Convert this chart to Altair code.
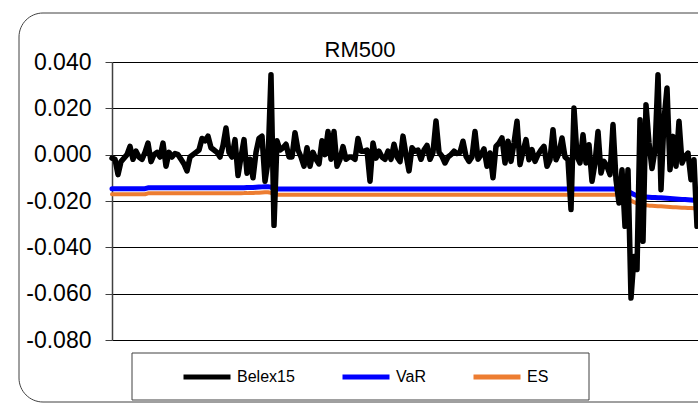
import altair as alt
import pandas as pd

# Daily Belex15 returns with 1-day VaR and Expected Shortfall estimates (RM500 model)
series_names = ["Belex15", "VaR", "ES"]
series_colors = ["#000000", "#0000FF", "#ED7D31"]
series_widths = [5.5, 5, 4]
chart_title = "RM500"
y_ticks = [-0.08, -0.06, -0.04, -0.02, 0.0, 0.02, 0.04]

belex15 = [
    -0.0015, -0.0020, -0.0086, -0.0030, -0.0015, 0.0000, 0.0036, -0.0020, 0.0015, -0.0010,
    -0.0020, 0.0010, 0.0050, -0.0030, 0.0000, 0.0010, -0.0010, 0.0050, -0.0050, 0.0010,
    -0.0010, 0.0005, 0.0000, -0.0020, -0.0040, -0.0070, -0.0010, 0.0000, 0.0010, 0.0020,
    0.0070, 0.0060, 0.0080, 0.0030, 0.0020, 0.0010, -0.0010, 0.0040, 0.0115, 0.0010,
    -0.0010, 0.0065, -0.0090, -0.0010, 0.0065, -0.0080, -0.0020, -0.0100, 0.0010, 0.0070,
    0.0080, -0.0115, -0.0030, 0.0345, -0.0305, 0.0060, 0.0020, 0.0030, 0.0045, -0.0010,
    -0.0010, 0.0095, 0.0020, -0.0010, -0.0050, 0.0030, -0.0050, 0.0010, -0.0020, -0.0040,
    0.0060, 0.0000, 0.0100, -0.0020, 0.0100, -0.0050, -0.0020, 0.0035, -0.0020, -0.0010,
    -0.0010, -0.0020, 0.0070, 0.0015, 0.0015, 0.0020, -0.0115, 0.0050, -0.0015, 0.0015,
    -0.0010, -0.0020, 0.0015, -0.0020, 0.0045, -0.0010, -0.0030, 0.0080, 0.0000, -0.0070,
    0.0030, 0.0015, 0.0020, -0.0020, 0.0020, 0.0040, -0.0020, 0.0010, 0.0145, 0.0010,
    -0.0007, -0.0036, -0.0010, 0.0000, 0.0015, 0.0005, 0.0010, 0.0058, -0.0007, -0.0029,
    -0.0010, 0.0100, -0.0020, 0.0000, 0.0025, -0.0050, 0.0007, -0.0100, 0.0036, 0.0050,
    0.0072, -0.0036, 0.0058, -0.0029, 0.0050, 0.0144, -0.0043, 0.0014, 0.0065, -0.0022,
    0.0022, -0.0029, 0.0000, 0.0020, 0.0036, -0.0050, -0.0022, 0.0108, -0.0022, 0.0007,
    0.0072, -0.0010, -0.0022, -0.0237, 0.0201, -0.0007, -0.0036, 0.0086, -0.0036, 0.0043,
    -0.0115, -0.0036, 0.0100, -0.0079, -0.0029, -0.0050, -0.0086, 0.0130, -0.0108, -0.0209,
    -0.0065, -0.0309, -0.0065, -0.0619, -0.0440, -0.0496, 0.0151, -0.0374, 0.0216, 0.0050,
    -0.0060, 0.0020, 0.0345, -0.0151, 0.0150, 0.0288, -0.0065, 0.0079, -0.0050, 0.0144,
    -0.0036, -0.0007, 0.0007, -0.0108, -0.0022, -0.0309,
]

var_values = [
    -0.0147, -0.0147, -0.0147, -0.0147, -0.0147, -0.0147, -0.0147, -0.0147, -0.0147, -0.0147,
    -0.0147, -0.0147, -0.0143, -0.0143, -0.0143, -0.0143, -0.0143, -0.0143, -0.0143, -0.0143,
    -0.0143, -0.0143, -0.0143, -0.0143, -0.0143, -0.0143, -0.0143, -0.0143, -0.0143, -0.0143,
    -0.0143, -0.0143, -0.0143, -0.0143, -0.0143, -0.0143, -0.0143, -0.0143, -0.0143, -0.0143,
    -0.0143, -0.0143, -0.0143, -0.0143, -0.0143, -0.0142, -0.0142, -0.0142, -0.0141, -0.0140,
    -0.0139, -0.0138, -0.0138, -0.0140, -0.0148, -0.0148, -0.0148, -0.0148, -0.0148, -0.0148,
    -0.0148, -0.0148, -0.0148, -0.0148, -0.0148, -0.0148, -0.0148, -0.0148, -0.0148, -0.0148,
    -0.0148, -0.0148, -0.0148, -0.0148, -0.0148, -0.0148, -0.0148, -0.0148, -0.0148, -0.0148,
    -0.0148, -0.0148, -0.0148, -0.0148, -0.0148, -0.0148, -0.0148, -0.0148, -0.0148, -0.0148,
    -0.0148, -0.0148, -0.0148, -0.0148, -0.0148, -0.0148, -0.0148, -0.0148, -0.0148, -0.0148,
    -0.0148, -0.0148, -0.0148, -0.0148, -0.0148, -0.0148, -0.0148, -0.0148, -0.0148, -0.0148,
    -0.0148, -0.0148, -0.0148, -0.0148, -0.0148, -0.0148, -0.0148, -0.0148, -0.0148, -0.0148,
    -0.0148, -0.0148, -0.0148, -0.0148, -0.0148, -0.0148, -0.0148, -0.0148, -0.0148, -0.0148,
    -0.0148, -0.0148, -0.0148, -0.0148, -0.0148, -0.0148, -0.0148, -0.0148, -0.0148, -0.0148,
    -0.0148, -0.0148, -0.0148, -0.0148, -0.0148, -0.0148, -0.0148, -0.0148, -0.0148, -0.0148,
    -0.0148, -0.0148, -0.0148, -0.0148, -0.0148, -0.0148, -0.0148, -0.0148, -0.0148, -0.0148,
    -0.0148, -0.0148, -0.0148, -0.0148, -0.0148, -0.0148, -0.0148, -0.0148, -0.0148, -0.0149,
    -0.0151, -0.0154, -0.0158, -0.0165, -0.0172, -0.0177, -0.0180, -0.0182, -0.0183, -0.0184,
    -0.0185, -0.0185, -0.0186, -0.0186, -0.0187, -0.0188, -0.0189, -0.0190, -0.0191, -0.0192,
    -0.0193, -0.0194, -0.0195, -0.0196, -0.0197, -0.0197,
]

es_values = [
    -0.0171, -0.0171, -0.0171, -0.0171, -0.0171, -0.0171, -0.0171, -0.0171, -0.0171, -0.0171,
    -0.0171, -0.0171, -0.0167, -0.0167, -0.0167, -0.0167, -0.0167, -0.0167, -0.0167, -0.0167,
    -0.0167, -0.0167, -0.0167, -0.0167, -0.0167, -0.0167, -0.0167, -0.0167, -0.0167, -0.0167,
    -0.0167, -0.0167, -0.0167, -0.0167, -0.0167, -0.0167, -0.0167, -0.0167, -0.0167, -0.0167,
    -0.0167, -0.0167, -0.0167, -0.0167, -0.0166, -0.0166, -0.0165, -0.0165, -0.0164, -0.0164,
    -0.0163, -0.0162, -0.0162, -0.0165, -0.0173, -0.0173, -0.0173, -0.0173, -0.0173, -0.0173,
    -0.0173, -0.0173, -0.0173, -0.0173, -0.0173, -0.0173, -0.0173, -0.0173, -0.0173, -0.0173,
    -0.0173, -0.0173, -0.0173, -0.0173, -0.0173, -0.0173, -0.0173, -0.0173, -0.0173, -0.0173,
    -0.0173, -0.0173, -0.0173, -0.0173, -0.0173, -0.0173, -0.0173, -0.0173, -0.0173, -0.0173,
    -0.0173, -0.0173, -0.0173, -0.0173, -0.0173, -0.0173, -0.0173, -0.0173, -0.0173, -0.0173,
    -0.0173, -0.0173, -0.0173, -0.0173, -0.0173, -0.0173, -0.0173, -0.0173, -0.0173, -0.0173,
    -0.0173, -0.0173, -0.0173, -0.0173, -0.0173, -0.0173, -0.0173, -0.0173, -0.0173, -0.0173,
    -0.0173, -0.0173, -0.0173, -0.0173, -0.0173, -0.0173, -0.0173, -0.0173, -0.0173, -0.0173,
    -0.0173, -0.0173, -0.0173, -0.0173, -0.0173, -0.0173, -0.0173, -0.0173, -0.0173, -0.0173,
    -0.0173, -0.0173, -0.0173, -0.0173, -0.0173, -0.0173, -0.0173, -0.0173, -0.0173, -0.0173,
    -0.0173, -0.0173, -0.0173, -0.0173, -0.0173, -0.0173, -0.0173, -0.0173, -0.0173, -0.0173,
    -0.0173, -0.0173, -0.0173, -0.0173, -0.0173, -0.0173, -0.0173, -0.0173, -0.0173, -0.0175,
    -0.0178, -0.0183, -0.0190, -0.0198, -0.0205, -0.0210, -0.0213, -0.0216, -0.0218, -0.0220,
    -0.0221, -0.0222, -0.0223, -0.0223, -0.0224, -0.0225, -0.0226, -0.0227, -0.0227, -0.0228,
    -0.0229, -0.0229, -0.0230, -0.0230, -0.0231, -0.0231,
]

FONT = "Liberation Sans"
PLOT_W, PLOT_H = 586, 278

day = list(range(len(belex15)))
df = pd.concat(
    [
        pd.DataFrame({"day": day, "value": vals, "series": name})
        for name, vals in zip(series_names, [belex15, var_values, es_values])
    ],
    ignore_index=True,
)

x_enc = alt.X(
    "day:Q",
    scale=alt.Scale(domain=[0, PLOT_W / 3], nice=False, zero=False),
    axis=None,
)
y_enc = alt.Y(
    "value:Q",
    title=None,
    scale=alt.Scale(domain=[-0.08, 0.04], nice=False, zero=False),
    axis=alt.Axis(
        values=y_ticks,
        labelExpr="replace(format(datum.value, '.3f'), '\u2212', '-')",
        labelFont=FONT,
        labelFontSize=23,
        labelColor="#000000",
        labelPadding=14,
        tickSize=7,
        tickColor="#404040",
        domainColor="#404040",
        domainWidth=1.5,
        grid=True,
        gridColor="#000000",
        gridWidth=1,
    ),
)
color_enc = alt.Color(
    "series:N",
    scale=alt.Scale(domain=series_names, range=series_colors),
    legend=alt.Legend(
        title=None,
        orient="none",
        direction="horizontal",
        legendX=69,
        legendY=289,
        symbolType="stroke",
        symbolSize=2209,
        symbolStrokeWidth=5,
        labelFont=FONT,
        labelFontSize=16,
        labelColor="#000000",
        labelOffset=4,
        columnPadding=37,
        padding=0,
    ),
)

base = alt.Chart(df)

# draw ES first and Belex15 last so the index line sits on top
series_layers = [
    base.transform_filter(alt.datum.series == name)
    .mark_line(strokeWidth=w, strokeJoin="round", strokeCap="round")
    .encode(x=x_enc, y=y_enc, color=color_enc)
    for name, w in reversed(list(zip(series_names, series_widths)))
]

deco = alt.Chart(pd.DataFrame({"label": [chart_title]}))

frame = deco.mark_rect(
    fillOpacity=0, stroke="#404040", strokeWidth=1, cornerRadius=24
).encode(
    x=alt.value(-93), x2=alt.value(640), y=alt.value(-49), y2=alt.value(340)
)

legend_box = deco.mark_rect(
    fillOpacity=0, stroke="#404040", strokeWidth=1
).encode(
    x=alt.value(20), x2=alt.value(477), y=alt.value(291), y2=alt.value(338)
)

title_text = deco.mark_text(
    font=FONT, fontSize=22, color="#000000", align="center", baseline="alphabetic"
).encode(x=alt.value(248), y=alt.value(-5), text="label:N")

chart = (
    alt.layer(frame, legend_box, *series_layers, title_text)
    .properties(
        width=PLOT_W,
        height=PLOT_H,
        autosize=alt.AutoSizeParams(type="none"),
        padding={"left": 112, "top": 62, "right": 0, "bottom": 63},
        background="#ffffff",
    )
    .configure_view(strokeWidth=0)
)

chart.save("out.html", embed_options={"renderer": "svg", "actions": False})
